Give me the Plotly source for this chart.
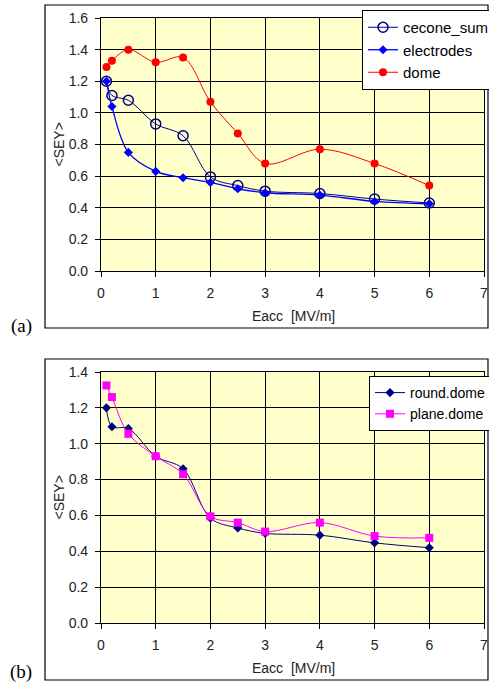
import plotly.graph_objects as go

# ---- data ----
x_a = [0.1, 0.2, 0.5, 1.0, 1.5, 2.0, 2.5, 3.0, 4.0, 5.0, 6.0]
cecone_sum = [1.20, 1.11, 1.08, 0.93, 0.855, 0.595, 0.54, 0.505, 0.49, 0.455, 0.43]
electrodes = [1.20, 1.04, 0.75, 0.63, 0.59, 0.56, 0.52, 0.495, 0.48, 0.44, 0.425]
dome = [1.29, 1.33, 1.40, 1.32, 1.35, 1.07, 0.87, 0.68, 0.77, 0.68, 0.54]

x_b = [0.1, 0.2, 0.5, 1.0, 1.5, 2.0, 2.5, 3.0, 4.0, 5.0, 6.0]
round_dome = [1.20, 1.095, 1.085, 0.93, 0.86, 0.585, 0.53, 0.50, 0.49, 0.447, 0.42]
plane_dome = [1.325, 1.26, 1.055, 0.93, 0.83, 0.595, 0.56, 0.51, 0.56, 0.485, 0.475]

x_ticks = [0, 1, 2, 3, 4, 5, 6, 7]

W, H = 489, 686
def px(x): return x / W
def py(y): return 1 - y / H

fig = go.Figure()

fig.add_trace(go.Scatter(x=x_a, y=cecone_sum, name="cecone_sum", mode="lines+markers",
    line=dict(color="#000080", width=1, shape="spline"),
    marker=dict(symbol="circle-open", size=10, color="#000080", line=dict(width=1.5)),
    xaxis="x", yaxis="y", legend="legend"))
fig.add_trace(go.Scatter(x=x_a, y=electrodes, name="electrodes", mode="lines+markers",
    line=dict(color="#0000FF", width=1.3, shape="spline"),
    marker=dict(symbol="diamond", size=7, color="#0000FF"),
    xaxis="x", yaxis="y", legend="legend"))
fig.add_trace(go.Scatter(x=x_a, y=dome, name="dome", mode="lines+markers",
    line=dict(color="#FF0000", width=1, shape="spline"),
    marker=dict(symbol="circle", size=8, color="#FF0000"),
    xaxis="x", yaxis="y", legend="legend"))

fig.add_trace(go.Scatter(x=x_b, y=round_dome, name="round.dome", mode="lines+markers",
    line=dict(color="#000080", width=1, shape="spline"),
    marker=dict(symbol="diamond", size=7, color="#000080"),
    xaxis="x2", yaxis="y2", legend="legend2"))
fig.add_trace(go.Scatter(x=x_b, y=plane_dome, name="plane.dome", mode="lines+markers",
    line=dict(color="#FF00FF", width=1, shape="spline"),
    marker=dict(symbol="square", size=8, color="#FF00FF"),
    xaxis="x2", yaxis="y2", legend="legend2"))

tickfont = dict(family="Liberation Sans, Arial", size=14, color="#222222")
common_x = dict(range=[0, 7], tickvals=x_ticks, showgrid=True, gridcolor="black", gridwidth=1.2,
                showline=True, linecolor="black", linewidth=1.2, mirror=True,
                ticks="outside", ticklen=5, tickcolor="black", tickfont=tickfont,
                zeroline=False, ticklabelstandoff=4, ticklabeloverflow="allow")
common_y = dict(showgrid=True, gridcolor="black", gridwidth=1.2,
                showline=True, linecolor="black", linewidth=1.2, mirror=True,
                ticks="outside", ticklen=5, tickcolor="black", tickfont=tickfont,
                zeroline=False, tickformat=".1f", ticklabelstandoff=4)

fig.update_layout(
    width=W, height=H, margin=dict(l=0, r=0, t=0, b=0, autoexpand=False),
    paper_bgcolor="white", plot_bgcolor="#FFFFCC",
    xaxis=dict(domain=[px(101), px(484)], anchor="y", **common_x),
    yaxis=dict(domain=[py(271), py(18)], anchor="x", range=[0, 1.6], dtick=0.2, **common_y),
    xaxis2=dict(domain=[px(101), px(484)], anchor="y2", **common_x),
    yaxis2=dict(domain=[py(623), py(372)], anchor="x2", range=[0, 1.4], dtick=0.2, **common_y),
    legend=dict(x=px(362), y=py(10), xanchor="left", yanchor="top",
                bgcolor="white", bordercolor="black", borderwidth=1,
                font=dict(family="Liberation Sans, Arial", size=15, color="black"),
                tracegroupgap=0, itemwidth=30),
    legend2=dict(x=px(369), y=py(376), xanchor="left", yanchor="top",
                 bgcolor="white", bordercolor="black", borderwidth=1,
                 font=dict(family="Liberation Sans, Arial", size=14, color="black"),
                 tracegroupgap=0, itemwidth=30),
    showlegend=True,
)

# outer boxes
fig.add_shape(type="rect", xref="paper", yref="paper", x0=px(45), x1=px(488), y0=py(328), y1=py(5),
              line=dict(color="black", width=1.2), layer="below")
fig.add_shape(type="rect", xref="paper", yref="paper", x0=px(45), x1=px(488), y0=py(680), y1=py(359),
              line=dict(color="black", width=1.2), layer="below")

ann_font = dict(family="Liberation Sans, Arial", size=14, color="#222222")
for yc in [144.5, 497.5]:
    fig.add_annotation(text="&lt;SEY&gt;", x=px(58), y=py(yc), xref="paper", yref="paper",
                       xanchor="center", yanchor="middle",
                       showarrow=False, textangle=-90, font=ann_font)
for yc in [316, 668]:
    fig.add_annotation(text="Eacc  [MV/m]", x=px(293), y=py(yc), xref="paper", yref="paper",
                       xanchor="center", yanchor="middle",
                       showarrow=False, font=ann_font)

lab_font = dict(family="Liberation Serif, Times New Roman", size=19, color="black")
fig.add_annotation(text="(a)", x=px(21), y=py(326), xref="paper", yref="paper", showarrow=False,
                   xanchor="center", yanchor="middle", font=lab_font)
fig.add_annotation(text="(b)", x=px(21), y=py(672), xref="paper", yref="paper", showarrow=False,
                   xanchor="center", yanchor="middle", font=lab_font)

fig.write_html("out.html")
